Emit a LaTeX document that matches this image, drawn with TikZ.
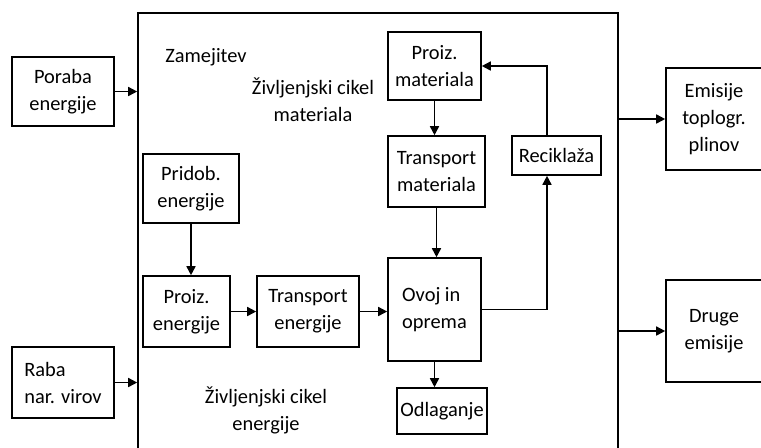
\documentclass[tikz,border=0pt]{standalone}
\usepackage{fontspec}
\setmainfont{Carlito}
\usetikzlibrary{arrows.meta}

\begin{document}
\begin{tikzpicture}[x=0.5pt, y=-0.5pt,
  box/.style={shape=rectangle, draw=black, line width=0.8pt, inner sep=0pt, align=center,
    font=\fontsize{10.2}{13.5}\selectfont},
  txt/.style={align=center, font=\fontsize{10.2}{13.5}\selectfont},
  arr/.style={-{Triangle[length=4.5pt, width=4.5pt]}, line width=0.8pt, draw=black}]
\path[use as bounding box, clip] (0,0) rectangle (761,447);
\node[draw=black, line width=0.8pt, minimum width=240pt, minimum height=235pt, inner sep=0pt] (meja) at (378,248) {};
\node[box, minimum width=51pt, minimum height=34.5pt] (poraba) at (63,91.5) {Poraba\\energije};
\node[box, minimum width=51pt, minimum height=35.5pt, align=left] (raba) at (63,382.5) {Raba\\nar. virov};
\node[box, minimum width=48pt, minimum height=34.5pt] (pridob) at (191,188.5) {Pridob.\\energije};
\node[box, minimum width=43.5pt, minimum height=35.5pt] (proizE) at (186.5,311.5) {Proiz.\\energije};
\node[box, minimum width=51pt, minimum height=35.5pt] (transE) at (308,311.5) {Transport\\energije};
\node[box, minimum width=46.5pt, minimum height=34pt] (proizM) at (434.5,66) {Proiz.\\materiala};
\node[box, minimum width=48.5pt, minimum height=35.5pt] (transM) at (436.5,171.5) {Transport\\materiala};
\node[box, minimum width=44.5pt, minimum height=19.5pt] (recik) at (556.5,155.5) {Reciklaža};
\node[box, minimum width=46.5pt, minimum height=51.5pt, align=left] (ovoj) at (434.5,309.5) {Ovoj in\\oprema};
\node[box, minimum width=45pt, minimum height=23pt] (odlag) at (442,411) {Odlaganje};
\node[box, minimum width=48pt, minimum height=51pt] (emis) at (714,119) {Emisije\\toplogr.\\plinov};
\node[box, minimum width=48pt, minimum height=51pt] (druge) at (714,331) {Druge\\emisije};
\node[txt] (zam) at (206,57) {Zamejitev};
\node[txt] (lcaM) at (313,100) {Življenjski cikel\\materiala};
\node[txt] (lcaE) at (266,410) {Življenjski cikel\\energije};
\path (poraba.east) edge [arr] (poraba.east -| meja.west);
\path (raba.east) edge [arr] (raba.east -| meja.west);
\path (pridob.south) edge [arr] (pridob.south |- proizE.north);
\path (proizE.east) edge [arr] (transE.west);
\path (transE.east) edge [arr] (transE.east -| ovoj.west);
\path (proizM.south) edge [arr] (proizM.south |- transM.north);
\path (transM.south) edge [arr] (transM.south |- ovoj.north);
\path (ovoj.south) edge [arr] (ovoj.south |- odlag.north);
\draw [arr] (ovoj.east) -| ([xshift=-4.75pt]recik.south);
\draw [arr] ([xshift=-4.75pt]recik.north) |- (proizM.east);
\path (meja.east |- emis.west) edge [arr] (emis.west);
\path (meja.east |- druge.west) edge [arr] (druge.west);
\end{tikzpicture}
\end{document}
